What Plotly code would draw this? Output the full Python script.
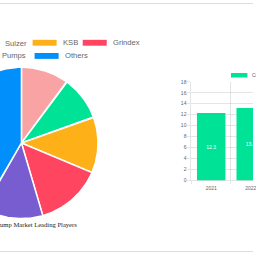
import numpy as np
import plotly.graph_objects as go

# ---------------- data ----------------
players = ["Tsurumi", "Sulzer", "KSB", "Grindex", "HCP Pumps", "Others"]
shares = [10.0, 9.4, 12.0, 14.1, 12.7, 41.8]
pie_colors = ["#F9A3A4", "#00E396", "#FEB019", "#FF4560", "#775DD0", "#008FFB"]

years = ["2021", "2022"]
market_values = [12.3, 13.2]
bar_series_name = "Consumption"
pie_title = "Dewatering Pump Market Leading Players"

# ---------------- layout constants ----------------
W = H = 256
CX, CY, R = 21.7, 143.3, 77.5
GRAY = "#666666"
GRID = "rgba(0,0,0,0.1)"

fig = go.Figure()

# ---- pie slices drawn as filled polygons on a pixel-scaled axis ----
total = sum(shares)
start = 0.0
for name, val, col in zip(players, shares, pie_colors):
    sweep = 360.0 * val / total
    th = np.radians(np.linspace(start, start + sweep, max(int(sweep * 2), 4)))
    xs = np.concatenate([[CX], CX + R * np.sin(th), [CX]])
    ys = np.concatenate([[CY], CY - R * np.cos(th), [CY]])
    fig.add_trace(go.Scatter(
        x=xs, y=ys, mode="lines", fill="toself", fillcolor=col,
        line=dict(color="white", width=1.5), name=name,
        showlegend=False, hoverinfo="skip", xaxis="x", yaxis="y"))
    start += sweep

# ---- bar chart ----
fig.add_trace(go.Bar(
    x=years, y=market_values, xaxis="x2", yaxis="y2",
    marker=dict(color="#00E396", line=dict(width=0)), width=0.72,
    text=[f"{v}" for v in market_values], textposition="inside",
    insidetextanchor="middle", textangle=0,
    textfont=dict(color="white", size=5, family="Liberation Sans"),
    showlegend=False, name=bar_series_name))

shapes = []
annotations = []

# pie legend (visible part)
legend_items = [
    # (name index, box x0, box y-center, text x, text anchor)
    (1, None, 41, 3.3, "left"),
    (2, 33, 40.7, 62, "left"),
    (3, 83.7, 40.7, 112.3, "left"),
    (4, None, 54.2, 28, "right"),
    (5, 35, 54.2, 64, "left"),
]
for idx, bx, yc, tx, anc in legend_items:
    if bx is not None:
        shapes.append(dict(type="rect", xref="x", yref="y", x0=bx, x1=bx + 24.3,
                           y0=yc - 3, y1=yc + 3, fillcolor=pie_colors[idx],
                           line=dict(width=0)))
    annotations.append(dict(xref="x", yref="y", x=tx, y=yc, text=players[idx],
                            xanchor=anc, yanchor="middle", showarrow=False,
                            font=dict(size=7.6, color=GRAY, family="Liberation Sans")))

# pie title
annotations.append(dict(xref="x", yref="y", x=79.5, y=227, text=pie_title,
                        xanchor="right", yanchor="middle", showarrow=False,
                        font=dict(size=6.6, color="#222222", family="Liberation Serif")))

# bar legend
shapes.append(dict(type="rect", xref="x", yref="y", x0=233.7, x1=250.3, y0=71.7, y1=76.3,
                   fillcolor="#00E396", line=dict(width=0)))
annotations.append(dict(xref="x", yref="y", x=253, y=74, text=bar_series_name,
                        xanchor="left", yanchor="middle", showarrow=False,
                        font=dict(size=5, color=GRAY, family="Liberation Sans")))

# frame lines top / bottom
shapes.append(dict(type="line", xref="paper", yref="paper", x0=0, x1=1,
                   y0=1 - 0.5 / H, y1=1 - 0.5 / H, line=dict(color="#dddddd", width=1)))
shapes.append(dict(type="line", xref="paper", yref="paper", x0=0, x1=1,
                   y0=1.5 / H, y1=1.5 / H, line=dict(color="#dddddd", width=1)))

fig.update_layout(
    width=W, height=H, margin=dict(l=0, r=0, t=0, b=0),
    paper_bgcolor="white", plot_bgcolor="rgba(0,0,0,0)",
    showlegend=False, bargap=0.28,
    xaxis=dict(range=[0, W], domain=[0, 1], visible=False, fixedrange=True),
    yaxis=dict(range=[H, 0], domain=[0, 1], visible=False, fixedrange=True),
    xaxis2=dict(domain=[193.7 / W, 1], anchor="y2", type="category",
                range=[-0.5, (W - 193.7) / 40 - 0.5], tickson="boundaries",
                showgrid=True, gridcolor=GRID, showline=True, linecolor=GRID,
                ticks="outside", ticklen=3, tickcolor=GRID, ticklabelstandoff=3,
                tickfont=dict(size=5, color=GRAY, family="Liberation Sans")),
    yaxis2=dict(domain=[(H - 181.7) / H, (H - 80.7) / H], anchor="x2",
                range=[0, 18], dtick=2, showgrid=True, gridcolor=GRID,
                zeroline=False, showline=True, linecolor=GRID,
                ticks="outside", ticklen=3, tickcolor=GRID,
                tickfont=dict(size=5, color=GRAY, family="Liberation Sans")),
    shapes=shapes, annotations=annotations,
)

fig.write_html("out.html")
